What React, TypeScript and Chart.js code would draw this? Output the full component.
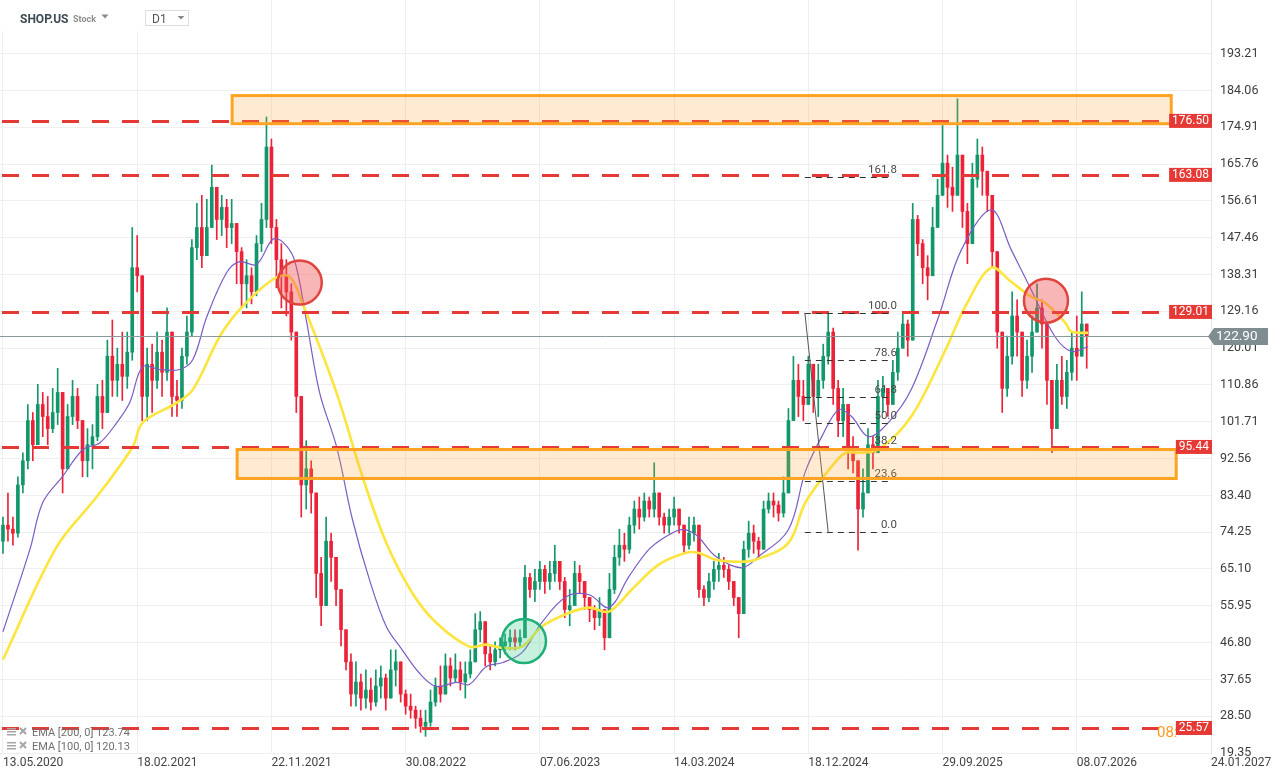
import React, { useEffect, useRef } from 'react';
import { Chart, registerables } from 'chart.js';

Chart.register(...registerables);

// ---------- DATA ----------
const dateLabels = ['13.05.2020', '18.02.2021', '22.11.2021', '30.08.2022', '07.06.2023', '14.03.2024', '18.12.2024', '29.09.2025', '08.07.2026', '24.01.2027'];
const dateTickIdx = [0, 27, 54, 81, 108, 135, 162, 189, 216, 243];
const priceTicks = [19.35, 28.5, 37.65, 46.8, 55.95, 65.1, 74.25, 83.4, 92.56, 101.71, 110.86, 120.01, 129.16, 138.31, 147.46, 156.61, 165.76, 174.91, 184.06, 193.21];

const firstOpen = 72;
const closes = [
  76, 75, 74, 86, 92, 102, 96, 106, 103, 100, 104, 109, 90, 103, 108, 102, 92, 96, 98, 108,
  104, 118, 112, 116, 113, 119, 140, 138, 108, 116, 112, 119, 114, 124, 108, 107, 118, 124, 145, 150,
  143, 150, 160, 152, 155, 150, 151, 144, 136, 138, 134, 146, 152, 170, 150, 142, 138, 134, 124, 108,
  86, 90, 84, 64, 56, 72, 68, 60, 50, 42, 34, 37, 33, 35, 32, 36, 38, 33, 40, 42,
  34, 31, 30, 28, 26, 27, 32, 36, 34, 41, 38, 40, 37, 39, 42, 50, 52, 44, 42, 45,
  46, 47, 48, 47, 48, 63, 60, 62, 65, 62, 64, 67, 62, 55, 56, 64, 62, 58, 55, 53,
  55, 48, 60, 68, 71, 70, 76, 80, 78, 82, 80, 84, 78, 76, 78, 80, 76, 71, 74, 76,
  60, 58, 62, 65, 66, 65, 62, 58, 54, 70, 74, 72, 70, 80, 82, 81, 79, 84, 102, 112,
  108, 106, 116, 108, 112, 118, 124, 110, 102, 106, 95, 92, 80, 84, 96, 94, 108, 110, 106, 114,
  120, 126, 122, 152, 146, 140, 138, 150, 158, 166, 160, 158, 168, 154, 146, 162, 168, 164, 158, 144,
  124, 110, 118, 128, 124, 112, 118, 124, 130, 126, 112, 100, 112, 108, 114, 120, 118, 126, 122.9,
];
const highs = [
  78, 84, 78, 88, 94, 106, 104, 111, 109, 108, 110, 115, 100, 106, 112, 110, 102, 100, 101, 111,
  112, 122, 127, 120, 124, 124, 150, 148, 134, 120, 121, 124, 122, 130, 121, 112, 120, 128, 147, 156,
  158, 157, 165.5, 160, 158, 157, 157, 150, 145, 142, 140, 148, 156, 177.5, 172, 152, 146, 142, 136, 124,
  100, 97, 92, 82, 68, 78, 74, 66, 58, 49, 44, 42, 39, 40, 38, 40, 41, 39, 45, 45,
  40, 35, 34, 31, 30, 30, 35, 38, 41, 44, 43, 44, 42, 42, 45, 54, 54.5, 50, 46, 47,
  48, 49, 50, 50, 50, 66, 64, 65, 67, 66, 67, 71, 66, 63, 60, 67, 66, 62, 58, 56,
  58, 54, 64, 71, 75, 74, 78, 82, 83, 84, 83, 91.5, 84, 79, 80, 83, 80, 74, 78, 78,
  65, 61, 64, 67, 69, 68, 66, 62, 56, 72, 77, 76, 73, 82, 84, 84, 82, 88, 105, 118,
  116, 112, 118, 114, 116, 121, 128.5, 125, 112, 110, 106, 98, 88, 90, 100, 98, 112, 113, 110, 117,
  124, 129, 127, 156, 153, 147, 143, 155, 162, 175.5, 168, 165, 182, 162, 156, 166, 172, 170, 164, 156,
  138, 124, 123, 134, 132, 124, 122, 128, 136, 132, 124, 112, 116, 118, 117, 124, 128, 134, 124,
];
const lows = [
  69, 72, 71, 73, 84, 90, 92, 99, 98, 96, 99, 101, 84, 92, 101, 100, 88, 88, 90, 97,
  100, 104, 108, 108, 107, 110, 117, 134, 102, 102, 104, 110, 108, 112, 103, 103, 105, 116, 123, 142,
  140, 143, 150, 147, 148, 145, 146, 136, 130, 130, 131, 133, 144, 150, 146, 135, 130, 128, 122, 104,
  78, 80, 79, 58, 51, 58, 62, 56, 46, 40, 31, 31, 30, 30.5, 30, 31, 33, 30, 34, 36,
  32, 29, 28, 25.5, 24.5, 23.5, 26, 31, 32, 36, 36, 37, 35, 33, 38, 44, 47, 41, 40, 41,
  43, 44, 45, 45, 46, 53, 58, 57, 60, 59, 60, 62, 60, 53, 51, 57, 59, 55, 52, 50,
  51, 45, 48, 59, 66, 67, 69, 74, 75, 77, 78, 78, 76, 74, 74, 76, 74, 69, 70, 72,
  58, 56, 57, 60, 62, 63, 60, 56, 48, 66, 68, 69, 68, 74, 79, 78, 77, 78, 86, 103,
  103, 102, 106, 104, 103, 110, 116, 106, 98, 98, 90, 89, 69.8, 78, 88, 90, 96, 104, 103, 106,
  112, 120, 118, 144, 143, 136, 132, 138, 150, 158, 155, 154, 160, 150, 141, 150, 160, 158, 154, 140,
  120, 104, 108, 116, 118, 108, 110, 114, 124, 120, 106, 94, 100, 106, 105, 112, 112, 118, 115,
];

const ema200Idx = [0, 10.8, 18.9, 26.1, 28.1, 34.9, 38.2, 43.6, 47.6, 54.2, 57.6, 60.2, 67.1, 72.3, 77.1, 82.3, 87.1, 93.8, 97.2, 100.4, 104.4, 108.4, 113.9, 117.9, 121.9, 126.5, 131.9, 137.3, 140, 143.4, 148, 151.4, 158, 161.4, 166.7, 169.5, 172.1, 176.1, 182.7, 189.6, 193.6, 198.8, 202.8, 206.8, 209.6, 213.7, 214.9, 218.3];
const ema200Val = [42.6, 70.6, 83.1, 95.5, 101.5, 106.4, 109.7, 122.9, 129.6, 137.0, 137.8, 131.3, 108.9, 88.1, 71.6, 59.2, 51.8, 45.8, 46.3, 45.5, 45.8, 50.8, 54.2, 55.5, 54.5, 60.0, 66.2, 69.1, 69.1, 67.4, 66.9, 67.4, 71.6, 81.6, 90.6, 94.0, 94.0, 94.8, 103.0, 119.6, 130.4, 140.0, 136.5, 132.8, 131.3, 126.3, 124.1, 123.8];
const ema100Idx = [0, 5.4, 8, 12, 16.1, 19.5, 22.9, 25.5, 28.1, 31.5, 35.5, 38.2, 41, 45, 47.6, 51, 54.2, 56.2, 58.6, 61, 63.7, 67.1, 70.3, 73.7, 77.1, 80.3, 83.7, 87.1, 91.2, 93.8, 97.2, 100.4, 104.4, 108.4, 113.3, 117.9, 121.9, 125.9, 129.9, 133.3, 136.5, 139.4, 143.4, 148.6, 152, 158, 161.4, 164.7, 168.1, 170.7, 174.1, 178.1, 182.7, 188.2, 192.8, 198.8, 202.8, 206.8, 211.6, 214.9, 218.3];
const ema100Val = [49.5, 69.9, 81.6, 88.1, 94.8, 96.5, 101.5, 106.5, 115.4, 114.7, 114.7, 117.2, 127.8, 138.8, 141.5, 140.8, 147.0, 146.5, 142.0, 127.1, 108.9, 95.5, 77.4, 62.5, 50.8, 45.0, 39.3, 35.9, 36.9, 36.4, 40.8, 41.8, 44.3, 51.8, 58.2, 58.7, 55.5, 63.2, 69.9, 73.1, 74.9, 73.6, 68.2, 65.4, 68.2, 74.9, 89.3, 98.0, 104.7, 103.0, 98.0, 101.5, 109.7, 127.8, 144.5, 154.4, 144.5, 134.6, 122.9, 119.2, 120.4];

const levelPrices = [176.5, 163.08, 129.01, 95.44, 25.57];
const zoneTop = [182.8, 94.8];
const zoneBottom = [175.8, 87.6];
const zoneStart = [46.1, 47.1];
const zoneEnd = [235.0, 236.0];
const circleIdx = [59.7, 209.8, 104.8];
const circlePrice = [136.3, 131.8, 47.2];
const circleKind = ['red', 'red', 'green'];
const fibRatios = [161.8, 100, 78.6, 61.8, 50, 38.2, 23.6, 0];
const fibHigh = 128.8;
const fibLow = 74.2;
const fibStartIdx = 161.3;
const fibEndIdx = 179.0;
const fibDiagEndIdx = 166.0;
const lastPrice = 122.9;
const legendRows = ['EMA [200, 0] 123.74', 'EMA [100, 0] 120.13'];

const UP = '#12976a';
const DOWN = '#ec2238';
const FONT = 'Roboto, "Noto Sans", Arial, sans-serif';

const overlayPlugin = {
  id: 'overlays',
  afterDatasetsDraw(chart: any) {
    const { ctx, chartArea } = chart;
    const xs = chart.scales.x;
    const ys = chart.scales.y;
    const px = (v: number) => xs.getPixelForValue(v);
    const py = (v: number) => ys.getPixelForValue(v);
    ctx.save();

    // red dashed levels
    ctx.setLineDash([17, 13]);
    ctx.lineWidth = 3;
    ctx.strokeStyle = '#e53935';
    levelPrices.forEach((p) => {
      const yy = Math.round(py(p)) + 0.5;
      ctx.beginPath();
      ctx.moveTo(chartArea.left + 2, yy);
      ctx.lineTo(chartArea.right - 44, yy);
      ctx.stroke();
    });

    // current price line
    ctx.setLineDash([]);
    ctx.lineWidth = 1;
    ctx.strokeStyle = '#8b989c';
    const ly = Math.round(py(lastPrice)) + 0.5;
    ctx.beginPath();
    ctx.moveTo(chartArea.left, ly);
    ctx.lineTo(chartArea.right, ly);
    ctx.stroke();

    // fibonacci
    const fx0 = px(fibStartIdx);
    const fx1 = px(fibEndIdx);
    ctx.setLineDash([6, 5]);
    ctx.strokeStyle = '#333333';
    ctx.lineWidth = 1;
    ctx.font = `11.5px ${FONT}`;
    ctx.fillStyle = '#4a4a4a';
    ctx.textAlign = 'right';
    ctx.textBaseline = 'alphabetic';
    fibRatios.forEach((r) => {
      const price = fibLow + (r / 100) * (fibHigh - fibLow);
      const yy = Math.round(py(price)) + 0.5;
      ctx.beginPath();
      ctx.moveTo(fx0, yy);
      ctx.lineTo(fx1, yy);
      ctx.stroke();
      ctx.fillText(r.toFixed(1), fx1 + 4, yy - 5);
    });
    ctx.setLineDash([]);
    ctx.strokeStyle = '#555555';
    ctx.beginPath();
    ctx.moveTo(fx0, py(fibHigh));
    ctx.lineTo(px(fibDiagEndIdx), py(fibLow));
    ctx.stroke();

    // zones
    zoneTop.forEach((t, i) => {
      const x0 = px(zoneStart[i]);
      const x1 = px(zoneEnd[i]);
      const y0 = py(t);
      const y1 = py(zoneBottom[i]);
      ctx.fillStyle = 'rgba(255,165,50,0.22)';
      ctx.fillRect(x0, y0, x1 - x0, y1 - y0);
      ctx.strokeStyle = '#ffa422';
      ctx.lineWidth = 3;
      ctx.strokeRect(x0, y0, x1 - x0, y1 - y0);
    });

    // circles
    circleIdx.forEach((ci, i) => {
      const red = circleKind[i] === 'red';
      ctx.beginPath();
      ctx.arc(px(ci), py(circlePrice[i]), 22, 0, Math.PI * 2);
      ctx.fillStyle = red ? 'rgba(240,80,80,0.42)' : 'rgba(70,205,150,0.3)';
      ctx.fill();
      ctx.lineWidth = 2.5;
      ctx.strokeStyle = red ? '#e0443c' : '#1fb07a';
      ctx.stroke();
    });

    // orange timer text (partially hidden)
    ctx.font = `15px ${FONT}`;
    ctx.fillStyle = '#ff9a1f';
    ctx.textAlign = 'left';
    ctx.textBaseline = 'middle';
    ctx.fillText('08:', chartArea.right - 54, py(25.57) + 5);

    // level labels
    ctx.font = `12px ${FONT}`;
    levelPrices.forEach((p) => {
      const t = p.toFixed(2);
      const w = ctx.measureText(t).width + 6;
      const yy = py(p);
      ctx.fillStyle = '#e53935';
      ctx.fillRect(chartArea.right + 1 - w, yy - 7, w, 14);
      ctx.fillStyle = '#ffffff';
      ctx.textAlign = 'right';
      ctx.textBaseline = 'middle';
      ctx.fillText(t, chartArea.right - 2, yy + 0.5);
    });

    // current price label
    const cy = py(lastPrice);
    ctx.fillStyle = '#7f8c90';
    ctx.beginPath();
    ctx.moveTo(chartArea.right - 3, cy);
    ctx.lineTo(chartArea.right + 3, cy - 8.5);
    ctx.lineTo(chartArea.right + 57, cy - 8.5);
    ctx.lineTo(chartArea.right + 57, cy + 8.5);
    ctx.lineTo(chartArea.right + 3, cy + 8.5);
    ctx.closePath();
    ctx.fill();
    ctx.fillStyle = '#ffffff';
    ctx.font = `13.5px ${FONT}`;
    ctx.textAlign = 'left';
    ctx.textBaseline = 'middle';
    ctx.fillText(lastPrice.toFixed(2), chartArea.right + 5, cy + 0.5);

    // header
    ctx.fillStyle = '#ffffff';
    ctx.fillRect(0, 0, 200, 31);
    ctx.textBaseline = 'alphabetic';
    ctx.textAlign = 'left';
    ctx.font = `bold 12px ${FONT}`;
    ctx.fillStyle = '#3c4a54';
    ctx.fillText('SHOP.US', 20, 23);
    ctx.font = `bold 9px ${FONT}`;
    ctx.fillStyle = '#8e8e8e';
    ctx.fillText('Stock', 73, 22);
    ctx.fillStyle = '#8a8a8a';
    ctx.beginPath();
    ctx.moveTo(101.5, 14.5);
    ctx.lineTo(108.5, 14.5);
    ctx.lineTo(105, 18.5);
    ctx.closePath();
    ctx.fill();
    ctx.strokeStyle = '#dddddd';
    ctx.lineWidth = 1;
    ctx.strokeRect(145.5, 10.5, 43, 15);
    ctx.font = `12px ${FONT}`;
    ctx.fillStyle = '#555555';
    ctx.fillText('D1', 152, 22.5);
    ctx.fillStyle = '#8a8a8a';
    ctx.beginPath();
    ctx.moveTo(177.5, 16);
    ctx.lineTo(184.5, 16);
    ctx.lineTo(181, 19.5);
    ctx.closePath();
    ctx.fill();

    // legend
    legendRows.forEach((t, i) => {
      const yy = 733 + i * 14;
      ctx.fillStyle = '#a5a5a5';
      ctx.fillRect(7, yy - 5, 9, 1.5);
      ctx.fillRect(7, yy - 2, 9, 1.5);
      ctx.fillRect(7, yy + 1, 9, 1.5);
      ctx.strokeStyle = '#a5a5a5';
      ctx.lineWidth = 2;
      ctx.beginPath();
      ctx.moveTo(20, yy - 5);
      ctx.lineTo(26, yy + 1);
      ctx.moveTo(26, yy - 5);
      ctx.lineTo(20, yy + 1);
      ctx.stroke();
      ctx.font = `11px ${FONT}`;
      ctx.fillStyle = '#6f6f6f';
      ctx.textBaseline = 'middle';
      ctx.fillText(t, 32, yy + 0.5);
    });

    ctx.restore();
  },
};

export default function App() {
  const ref = useRef<HTMLCanvasElement | null>(null);

  useEffect(() => {
    document.body.style.margin = '0';
    const canvas = ref.current;
    if (!canvas) return;

    const opens = closes.map((c, i) => (i === 0 ? firstOpen : closes[i - 1]));
    const colors = closes.map((c, i) => (c >= opens[i] ? UP : DOWN));
    const wickData = closes.map((c, i) => ({
      x: i,
      y: [Math.min(lows[i], opens[i], c), Math.max(highs[i], opens[i], c)],
    }));
    const bodyData = closes.map((c, i) => ({ x: i, y: [opens[i], c] }));

    const chart = new Chart(canvas, {
      type: 'bar',
      data: {
        datasets: [
          {
            type: 'line',
            data: ema200Idx.map((x, i) => ({ x, y: ema200Val[i] })),
            borderColor: '#fde53e',
            borderWidth: 2.6,
            pointRadius: 0,
            tension: 0.35,
            order: 0,
          } as any,
          {
            type: 'line',
            data: ema100Idx.map((x, i) => ({ x, y: ema100Val[i] })),
            borderColor: '#7b5cc6',
            borderWidth: 1.2,
            pointRadius: 0,
            tension: 0.35,
            order: 0,
          } as any,
          {
            type: 'bar',
            data: bodyData,
            backgroundColor: colors,
            barThickness: 3,
            minBarLength: 1,
            grouped: false,
            borderWidth: 0,
            order: 1,
          } as any,
          {
            type: 'bar',
            data: wickData,
            backgroundColor: colors,
            barThickness: 1,
            grouped: false,
            borderWidth: 0,
            order: 2,
          } as any,
        ],
      },
      options: {
        responsive: false,
        animation: false,
        layout: { padding: 0 },
        plugins: { legend: { display: false }, tooltip: { enabled: false } },
        events: [],
        scales: {
          x: {
            type: 'linear',
            min: -0.6,
            max: 243,
            offset: false,
            afterBuildTicks: (s: any) => {
              s.ticks = dateTickIdx.map((v) => ({ value: v }));
            },
            afterFit: (s: any) => {
              s.height = 26;
              s.paddingLeft = 0;
              s.paddingRight = 0;
            },
            grid: { color: '#efefef', drawTicks: false, offset: false },
            border: { display: false },
            ticks: {
              autoSkip: false,
              maxRotation: 0,
              align: 'start',
              padding: 3,
              color: '#444444',
              font: { family: FONT, size: 12 },
              callback: (v: any) => {
                const k = dateTickIdx.indexOf(Number(v));
                return k >= 0 ? dateLabels[k] : '';
              },
            },
          },
          y: {
            type: 'linear',
            position: 'right',
            min: 19.35,
            max: 206.56,
            afterBuildTicks: (s: any) => {
              s.ticks = priceTicks.map((v) => ({ value: v }));
            },
            afterFit: (s: any) => {
              s.width = 69;
              s.paddingTop = 0;
              s.paddingBottom = 0;
            },
            grid: { color: '#efefef', drawTicks: false },
            border: { display: true, color: '#e6e6e6' },
            ticks: {
              padding: 9,
              color: '#3d3d3d',
              font: { family: FONT, size: 12.5 },
              callback: (v: any) => Number(v).toFixed(2),
            },
          },
        },
      } as any,
      plugins: [overlayPlugin],
    });

    return () => chart.destroy();
  }, []);

  return (
    <div style={{ width: 1280, height: 779, background: '#ffffff' }}>
      <canvas ref={ref} width={1280} height={779} style={{ display: 'block', width: 1280, height: 779 }} />
    </div>
  );
}
